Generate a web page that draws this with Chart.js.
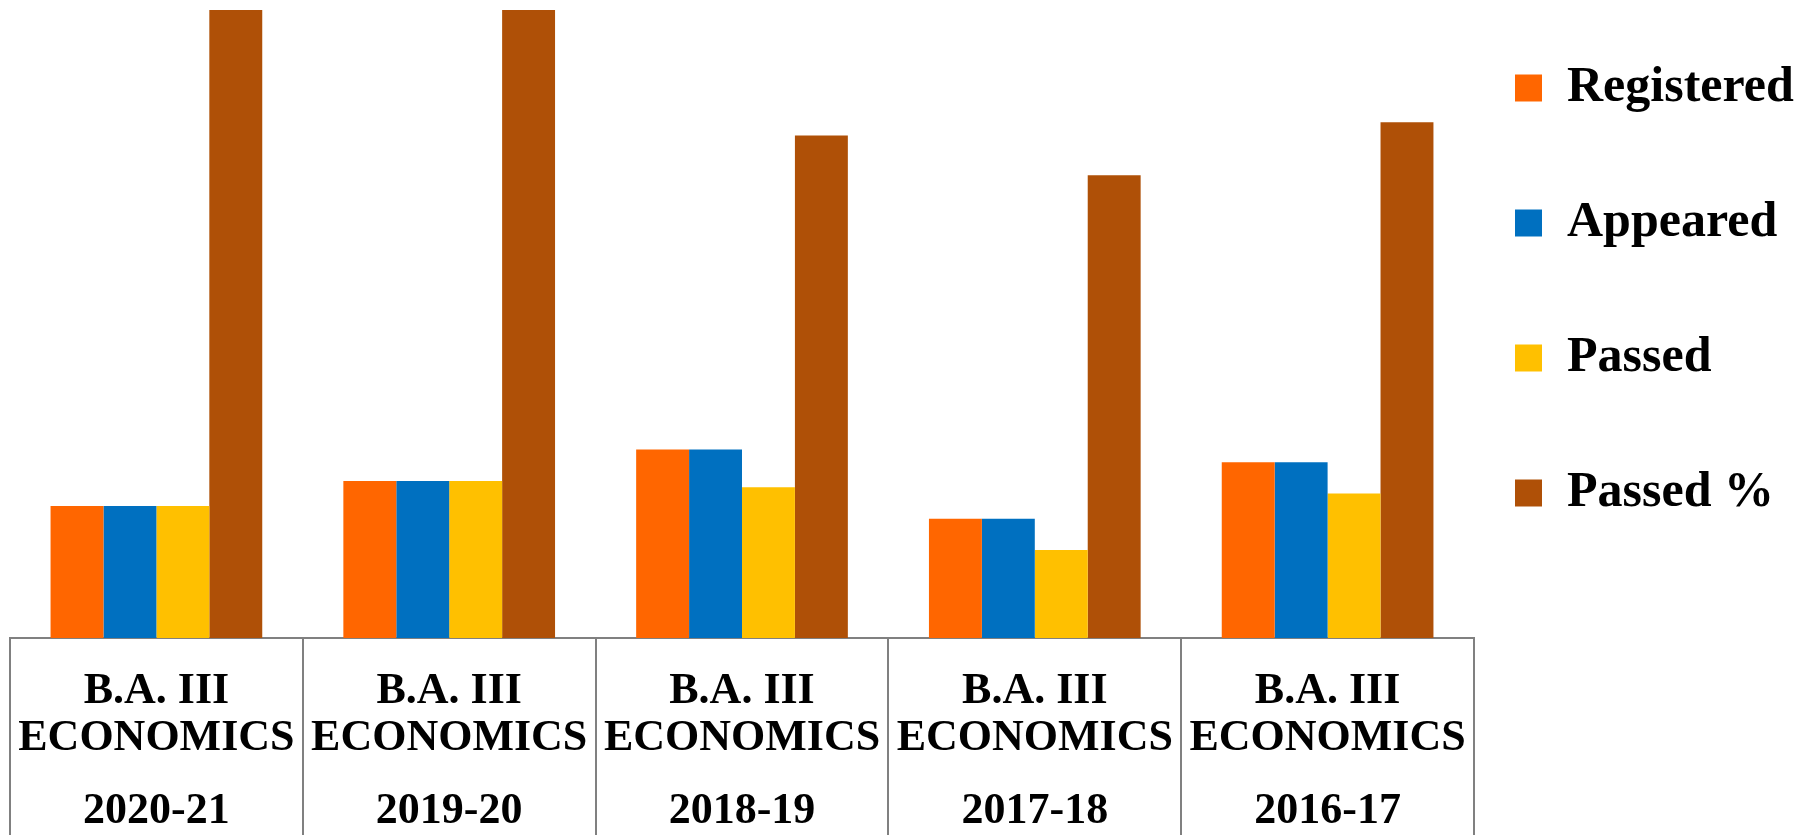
<!DOCTYPE html>
<html lang="en">
<head>
    <meta charset="UTF-8">
    <title>B.A. III Economics results</title>
    <script src="https://cdn.jsdelivr.net/npm/chart.js"></script>
    <style>
        body { margin: 0; background: #fff; }
        #wrap { width: 1815px; height: 835px; }
    </style>
</head>
<body>
<div id="wrap">
    <canvas id="myChart"></canvas>
</div>
<script>
    const sessions = ['2020-21', '2019-20', '2018-19', '2017-18', '2016-17'];
    const course = ['B.A. III', 'ECONOMICS'];

    const registered = [21, 25, 30, 19, 28];
    const appeared = [21, 25, 30, 19, 28];
    const passed = [21, 25, 24, 14, 23];
    const passedPct = [100, 100, 80, 73.68, 82.14];

    const labels = sessions.map(() => course);

    const tickFont = { family: '"Liberation Serif", "Times New Roman", serif', size: 44, weight: 'bold', lineHeight: '47px' };

    // move the legend column to where it sits in the original
    const legendNudge = {
        id: 'legendNudge',
        afterLayout(chart) {
            chart.legend.left -= 44;
            chart.legend.top -= 32;
        }
    };

    const ctx = document.getElementById('myChart');
    new Chart(ctx, {
        type: 'bar',
        data: {
            labels: labels,
            datasets: [
                { label: 'Registered', data: registered, backgroundColor: '#FF6600' },
                { label: 'Appeared', data: appeared, backgroundColor: '#0070C0' },
                { label: 'Passed', data: passed, backgroundColor: '#FFC000' },
                { label: 'Passed %', data: passedPct, backgroundColor: '#AF5007' }
            ]
        },
        options: {
            responsive: true,
            maintainAspectRatio: false,
            animation: false,
            datasets: {
                bar: { categoryPercentage: 0.723, barPercentage: 1.0, borderWidth: 0 }
            },
            layout: { padding: { top: 10, left: 10, right: 0, bottom: 0 } },
            plugins: {
                tooltip: { enabled: false },
                legend: {
                    position: 'right',
                    align: 'start',
                    maxWidth: 341,
                    labels: {
                        color: '#000',
                        boxWidth: 27,
                        boxHeight: 27,
                        padding: 85,
                        font: { family: '"Liberation Serif", "Times New Roman", serif', size: 50, weight: 'bold' }
                    }
                }
            },
            scales: {
                y: {
                    display: false,
                    min: 0,
                    max: 100
                },
                x: {
                    weight: 0,
                    border: { display: true, color: '#808080', width: 2 },
                    grid: {
                        offset: true,
                        drawOnChartArea: false,
                        drawTicks: true,
                        tickLength: 200,
                        color: '#808080',
                        lineWidth: 2
                    },
                    ticks: {
                        color: '#000',
                        font: tickFont,
                        padding: -170,
                        maxRotation: 0,
                        minRotation: 0,
                        autoSkip: false
                    },
                    afterFit(scale) { scale.height = 130; }
                },
                x2: {
                    type: 'category',
                    position: 'bottom',
                    weight: 1,
                    labels: sessions,
                    offset: true,
                    border: { display: false },
                    grid: { display: false, drawTicks: false },
                    ticks: {
                        color: '#000',
                        font: tickFont,
                        padding: 20,
                        maxRotation: 0,
                        minRotation: 0,
                        autoSkip: false
                    },
                    afterFit(scale) { scale.height = 67; }
                }
            }
        },
        plugins: [legendNudge]
    });
</script>
</body>
</html>
